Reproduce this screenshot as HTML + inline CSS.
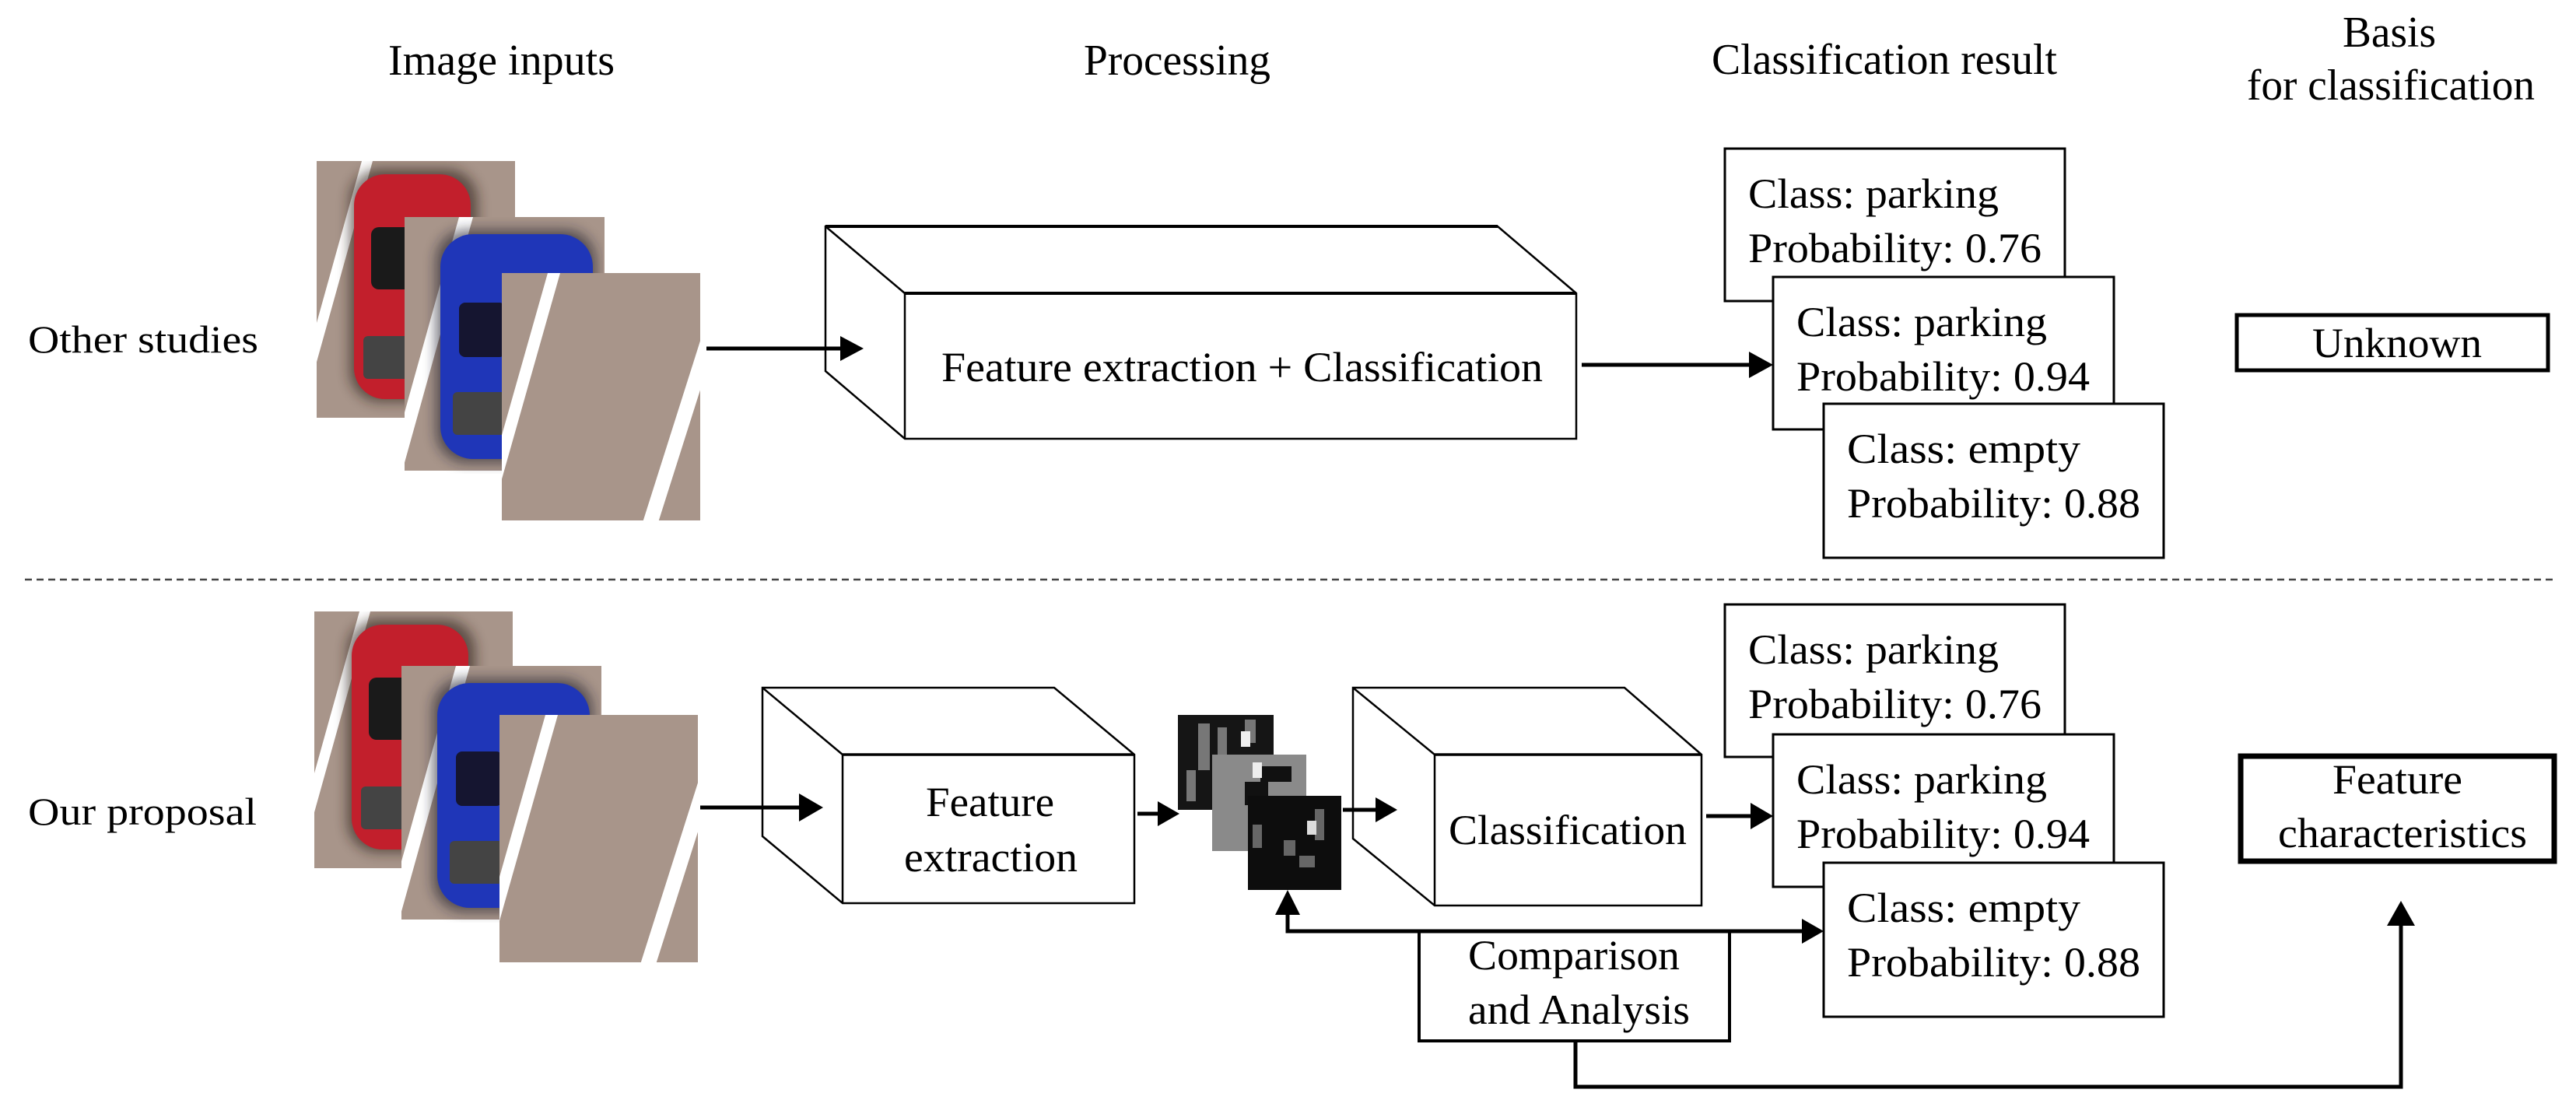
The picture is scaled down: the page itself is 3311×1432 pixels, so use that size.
<!DOCTYPE html>
<html><head><meta charset="utf-8"><style>html,body{margin:0;padding:0;background:#fff}svg{display:block}text{font-family:"Liberation Serif",serif;fill:#000}</style></head>
<body>
<svg width="3311" height="1432" viewBox="0 0 3311 1432" xmlns="http://www.w3.org/2000/svg">
<defs>
<clipPath id="c1"><rect x="0" y="0" width="255" height="330"/></clipPath>
<filter id="blur" x="-30%" y="-30%" width="160%" height="160%"><feGaussianBlur stdDeviation="8"/></filter>
<g id="img1">
<rect x="0" y="0" width="255" height="330" fill="#a8958a"/>
<g clip-path="url(#c1)">
<polygon points="58,0 72,0 -20,330 -34,330" fill="#fff"/>
<rect x="42" y="10" width="165" height="300" rx="40" fill="#2a1a18" opacity="0.6" filter="url(#blur)"/>
<rect x="48" y="17" width="150" height="289" rx="40" fill="#c21f2c"/>
<rect x="70" y="85" width="70" height="80" rx="10" fill="#1a1a1a"/>
<rect x="60" y="225" width="80" height="55" rx="6" fill="#444"/>
</g></g>
<g id="img2">
<rect x="0" y="0" width="257" height="326" fill="#a8958a"/>
<g clip-path="url(#c1)">
<polygon points="70,0 88,0 -4,330 -22,330" fill="#fff"/>
<rect x="40" y="16" width="206" height="300" rx="40" fill="#1a1a2a" opacity="0.6" filter="url(#blur)"/>
<rect x="46" y="22" width="196" height="289" rx="42" fill="#1f36b8"/>
<rect x="70" y="110" width="60" height="70" rx="8" fill="#151530"/>
<rect x="62" y="225" width="75" height="55" rx="6" fill="#444"/>
</g></g>
<g id="img3">
<rect x="0" y="0" width="255" height="318" fill="#a8958a"/>
<g clip-path="url(#c1)">
<polygon points="59,0 75,0 -10,300 -26,300" fill="#fff"/>
<polygon points="270,40 290,40 198,330 178,330" fill="#fff"/>
</g></g>
</defs>

<!-- headers -->
<text x="499" y="96" font-size="56" textLength="291" lengthAdjust="spacingAndGlyphs">Image inputs</text>
<text x="1393" y="96" font-size="56" textLength="240" lengthAdjust="spacingAndGlyphs">Processing</text>
<text x="2200" y="95" font-size="56" textLength="444" lengthAdjust="spacingAndGlyphs">Classification result</text>
<text x="3011" y="60" font-size="56" textLength="120" lengthAdjust="spacingAndGlyphs">Basis</text>
<text x="2888" y="128" font-size="56" textLength="370" lengthAdjust="spacingAndGlyphs">for classification</text>

<text x="36" y="453" font-size="50" textLength="296" lengthAdjust="spacingAndGlyphs">Other studies</text>
<text x="36" y="1060" font-size="50" textLength="294" lengthAdjust="spacingAndGlyphs">Our proposal</text>

<line x1="32" y1="745" x2="3282" y2="745" stroke="#444" stroke-width="2.5" stroke-dasharray="9,6"/>

<!-- top images -->
<use href="#img1" x="407" y="207"/>
<use href="#img2" x="520" y="279"/>
<use href="#img3" x="645" y="351"/>
<!-- bottom images -->
<use href="#img1" x="404" y="786"/>
<use href="#img2" x="516" y="856"/>
<use href="#img3" x="642" y="919"/>

<g stroke="#000" fill="none" stroke-width="2.5">
<polygon points="1061,291 1925,291 2026,377 2026,564 1163,564 1061,477" fill="#fff"/>
<line x1="1061" y1="291" x2="1163" y2="377"/>
<line x1="1163" y1="377" x2="2026" y2="377" stroke-width="4"/>
<line x1="1163" y1="377" x2="1163" y2="564"/>
<line x1="1061" y1="291" x2="1925" y2="291" stroke-width="4"/>
<polygon points="980,884 1355,884 1458,970 1458,1161 1083,1161 980,1075" fill="#fff"/>
<line x1="980" y1="884" x2="1083" y2="970"/>
<line x1="1083" y1="970" x2="1458" y2="970" stroke-width="3.5"/>
<line x1="1083" y1="970" x2="1083" y2="1161"/>
<polygon points="1739,884 2088,884 2187,970 2187,1164 1844,1164 1739,1078" fill="#fff"/>
<line x1="1739" y1="884" x2="1844" y2="970"/>
<line x1="1844" y1="970" x2="2187" y2="970" stroke-width="3.5"/>
<line x1="1844" y1="970" x2="1844" y2="1164"/>
</g>
<text x="1210" y="490" font-size="54" textLength="773" lengthAdjust="spacingAndGlyphs">Feature extraction + Classification</text>
<text x="1190" y="1049" font-size="54" textLength="165" lengthAdjust="spacingAndGlyphs">Feature</text>
<text x="1162" y="1120" font-size="54" textLength="223" lengthAdjust="spacingAndGlyphs">extraction</text>
<text x="1862" y="1085" font-size="54" textLength="306" lengthAdjust="spacingAndGlyphs">Classification</text>

<!-- feature maps -->
<rect x="1514" y="919" width="123" height="122" fill="#151515"/>
<g fill="#777"><rect x="1540" y="930" width="15" height="60"/><rect x="1565" y="935" width="12" height="40"/><rect x="1600" y="925" width="14" height="30"/><rect x="1525" y="990" width="12" height="40"/></g>
<rect x="1595" y="940" width="12" height="20" fill="#eee"/>
<rect x="1558" y="970" width="121" height="124" fill="#8a8a8a"/>
<g fill="#111"><rect x="1620" y="985" width="40" height="20"/><rect x="1600" y="1005" width="30" height="30"/></g>
<rect x="1610" y="980" width="12" height="20" fill="#eee"/>
<rect x="1604" y="1023" width="120" height="121" fill="#0d0d0d"/>
<g fill="#666"><rect x="1610" y="1060" width="12" height="30"/><rect x="1650" y="1080" width="15" height="20"/><rect x="1690" y="1040" width="12" height="40"/><rect x="1670" y="1100" width="20" height="15"/></g>
<rect x="1680" y="1055" width="12" height="18" fill="#ddd"/>

<!-- result boxes -->
<g stroke="#000" stroke-width="3" fill="#fff">
<rect x="2217" y="191" width="437" height="196"/>
<rect x="2279" y="356" width="438" height="196"/>
<rect x="2344" y="519" width="437" height="198"/>
<rect x="2217" y="777" width="437" height="196"/>
<rect x="2279" y="944" width="438" height="196"/>
<rect x="2344" y="1109" width="437" height="198"/>
</g>
<g font-size="54">
<text x="2247" y="267" textLength="322" lengthAdjust="spacingAndGlyphs">Class: parking</text>
<text x="2247" y="337" textLength="377" lengthAdjust="spacingAndGlyphs">Probability: 0.76</text>
<text x="2309" y="432" textLength="322" lengthAdjust="spacingAndGlyphs">Class: parking</text>
<text x="2309" y="502" textLength="377" lengthAdjust="spacingAndGlyphs">Probability: 0.94</text>
<text x="2374" y="595" textLength="300" lengthAdjust="spacingAndGlyphs">Class: empty</text>
<text x="2374" y="665" textLength="377" lengthAdjust="spacingAndGlyphs">Probability: 0.88</text>
<text x="2247" y="853" textLength="322" lengthAdjust="spacingAndGlyphs">Class: parking</text>
<text x="2247" y="923" textLength="377" lengthAdjust="spacingAndGlyphs">Probability: 0.76</text>
<text x="2309" y="1020" textLength="322" lengthAdjust="spacingAndGlyphs">Class: parking</text>
<text x="2309" y="1090" textLength="377" lengthAdjust="spacingAndGlyphs">Probability: 0.94</text>
<text x="2374" y="1185" textLength="300" lengthAdjust="spacingAndGlyphs">Class: empty</text>
<text x="2374" y="1255" textLength="377" lengthAdjust="spacingAndGlyphs">Probability: 0.88</text>
</g>

<rect x="2875" y="405" width="400" height="71" fill="#fff" stroke="#000" stroke-width="5"/>
<text x="2972" y="459" font-size="54" textLength="218" lengthAdjust="spacingAndGlyphs">Unknown</text>
<rect x="2880" y="972" width="403" height="135" fill="#fff" stroke="#000" stroke-width="7"/>
<text x="2998" y="1020" font-size="54" textLength="167" lengthAdjust="spacingAndGlyphs">Feature</text>
<text x="2928" y="1089" font-size="54" textLength="320" lengthAdjust="spacingAndGlyphs">characteristics</text>

<rect x="1824" y="1197" width="399" height="141" fill="#fff" stroke="#000" stroke-width="4"/>
<text x="1887" y="1246" font-size="54" textLength="272" lengthAdjust="spacingAndGlyphs">Comparison</text>
<text x="1887" y="1316" font-size="54" textLength="285" lengthAdjust="spacingAndGlyphs">and Analysis</text>

<g stroke="#000" stroke-width="5" fill="none">
<line x1="908" y1="448" x2="1080" y2="448"/>
<line x1="2033" y1="469" x2="2250" y2="469"/>
<line x1="900" y1="1038" x2="1030" y2="1038"/>
<line x1="1462" y1="1046" x2="1490" y2="1046"/>
<line x1="1726" y1="1041" x2="1770" y2="1041"/>
<line x1="2193" y1="1049" x2="2252" y2="1049"/>
<polyline points="1655,1172 1655,1197 2318,1197"/>
<polyline points="2025,1338 2025,1397 3086,1397 3086,1188"/>
</g>
<g fill="#000">
<polygon points="1080,432 1110,448 1080,464"/>
<polygon points="2248,452 2279,469 2248,486"/>
<polygon points="1027,1020 1058,1038 1027,1056"/>
<polygon points="1488,1030 1516,1046 1488,1062"/>
<polygon points="1768,1025 1796,1041 1768,1057"/>
<polygon points="2250,1032 2279,1049 2250,1066"/>
<polygon points="1639,1176 1655,1144 1671,1176"/>
<polygon points="2316,1181 2344,1197 2316,1213"/>
<polygon points="3068,1190 3086,1158 3104,1190"/>
</g>
</svg>
</body></html>
